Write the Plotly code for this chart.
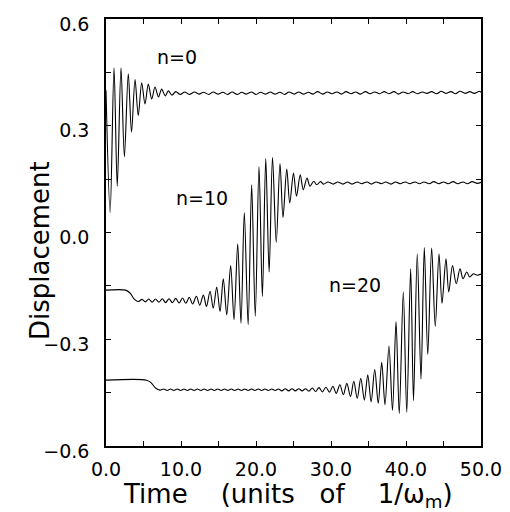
import plotly.graph_objects as go

# ---------------- data (turning points) ----------------
T0 = [0.0, 0.55, 1.07, 1.5, 2.0, 2.45, 2.97, 3.4, 3.87, 4.3,
      4.76, 5.2, 5.64, 6.1, 6.53, 7.0, 7.42, 7.9, 8.31, 8.8,
      9.3,
      9.9, 10.5, 11.1, 11.8, 12.4, 13.0, 13.7, 14.3, 14.9, 15.6,
      16.2, 16.8, 17.5, 18.1, 18.7, 19.4, 20.0, 20.6, 21.3, 21.9,
      22.5, 23.2, 23.8, 24.4, 25.1, 25.7, 26.3, 27.0, 27.6, 28.2,
      28.9, 29.5, 30.1, 30.8, 31.4, 32.0, 32.7, 33.3, 33.9, 34.6,
      35.2, 35.8, 36.5, 37.1, 37.7, 38.4, 39.0, 39.6, 40.3, 40.9,
      41.5, 42.2, 42.8, 43.4, 44.1, 44.7, 45.3, 46.0, 46.6, 47.2,
      47.9, 48.5, 49.1, 49.8, 50.0]
V0 = [0.40, 0.056, 0.463, 0.13, 0.463, 0.213, 0.446, 0.282, 0.430, 0.329,
      0.421, 0.361, 0.417, 0.375, 0.409, 0.381, 0.403, 0.384, 0.398, 0.386,
      0.396,
      0.388, 0.395, 0.388, 0.395, 0.389, 0.394, 0.388, 0.395, 0.389, 0.394,
      0.388, 0.395, 0.388, 0.394, 0.389, 0.395, 0.388, 0.394, 0.389, 0.395,
      0.389, 0.394, 0.388, 0.395, 0.389, 0.395, 0.389, 0.394, 0.389, 0.396,
      0.389, 0.395, 0.390, 0.395, 0.389, 0.396, 0.390, 0.395, 0.389, 0.396,
      0.390, 0.395, 0.390, 0.396, 0.390, 0.396, 0.389, 0.395, 0.390, 0.396,
      0.390, 0.395, 0.391, 0.396, 0.390, 0.397, 0.391, 0.396, 0.390, 0.397,
      0.391, 0.396, 0.391, 0.397, 0.394]

T10 = [0.0, 2.6, 3.2, 3.8, 4.3,
       4.8, 5.25, 5.7, 6.15, 6.6, 7.05, 7.5, 7.95, 8.4, 8.85,
       9.3, 9.75, 10.2, 10.65, 11.1, 11.55, 12.05, 12.5, 12.98, 13.4,
       13.87, 14.3, 14.76, 15.2, 15.64, 16.1, 16.62, 17.07, 17.56, 18.0,
       18.44, 18.95, 19.42, 19.9, 20.4, 20.85, 21.3, 21.75, 22.2, 22.7,
       23.2, 23.6, 24.1, 24.5, 25.0, 25.4, 25.9, 26.3, 26.8, 27.2,
       27.7, 28.1, 28.6, 29.0, 29.6, 30.3, 30.9, 31.6, 32.2, 32.8,
       33.5, 34.1, 34.8, 35.4, 36.0, 36.7, 37.3, 38.0, 38.6, 39.2,
       39.9, 40.5, 41.2, 41.8, 42.4, 43.1, 43.7, 44.4, 45.0, 45.6,
       46.3, 46.9, 47.6, 48.2, 48.8, 49.5, 50.0]
V10 = [-0.162, -0.162, -0.170, -0.188, -0.194,
       -0.188, -0.195, -0.187, -0.196, -0.187, -0.196, -0.186, -0.197, -0.186, -0.197,
       -0.185, -0.198, -0.184, -0.199, -0.182, -0.201, -0.179, -0.204, -0.176, -0.208,
       -0.165, -0.213, -0.153, -0.222, -0.130, -0.231, -0.093, -0.245, -0.032, -0.255,
       0.056, -0.259, 0.134, -0.235, 0.185, -0.180, 0.208, -0.111, 0.211, -0.028,
       0.194, 0.042, 0.178, 0.083, 0.167, 0.102, 0.162, 0.120, 0.153, 0.130,
       0.144, 0.134, 0.143, 0.136, 0.142, 0.136, 0.142, 0.136, 0.142, 0.136,
       0.142, 0.137, 0.142, 0.136, 0.142, 0.137, 0.142, 0.136, 0.142, 0.137,
       0.142, 0.137, 0.142, 0.137, 0.142, 0.137, 0.143, 0.137, 0.142, 0.137,
       0.143, 0.137, 0.142, 0.137, 0.143, 0.138, 0.141]

T20 = [0.0, 5.4, 6.0, 6.6, 7.2,
       7.7, 8.15, 8.6, 9.05, 9.5, 9.95, 10.4, 10.85, 11.3, 11.75,
       12.2, 12.65, 13.1, 13.55, 14.0, 14.45, 14.9, 15.35, 15.8, 16.25,
       16.7, 17.15, 17.6, 18.05, 18.5, 18.95, 19.4, 19.85, 20.3, 20.75,
       21.2, 21.65, 22.1, 22.55, 23.0, 23.45, 23.9, 24.35, 24.8, 25.25,
       25.7, 26.15, 26.6, 27.05, 27.5, 27.95, 28.4, 28.85,
       29.32, 29.8, 30.25, 30.7, 31.18, 31.65, 32.11, 32.6, 33.04, 33.5,
       33.97, 34.45, 34.9, 35.35, 35.83, 36.3, 36.76, 37.2, 37.73, 38.2,
       38.67, 39.1, 39.64, 40.1, 40.62, 41.0, 41.5, 42.0, 42.44, 42.9,
       43.42, 43.9, 44.4, 44.8, 45.33, 45.7, 46.2, 46.7, 47.2, 47.6,
       48.1, 48.5, 49.0, 49.5, 50.0]
V20 = [-0.415, -0.415, -0.422, -0.437, -0.443,
       -0.440, -0.444, -0.440, -0.444, -0.440, -0.444, -0.440, -0.444, -0.440, -0.444,
       -0.440, -0.444, -0.440, -0.444, -0.440, -0.444, -0.440, -0.444, -0.440, -0.444,
       -0.440, -0.444, -0.440, -0.444, -0.440, -0.444, -0.440, -0.444, -0.440, -0.444,
       -0.440, -0.444, -0.440, -0.444, -0.440, -0.445, -0.439, -0.445, -0.439, -0.445,
       -0.439, -0.445, -0.439, -0.446, -0.437, -0.447, -0.436, -0.448,
       -0.435, -0.449, -0.432, -0.452, -0.428, -0.456, -0.424, -0.461, -0.418, -0.466,
       -0.410, -0.471, -0.400, -0.476, -0.385, -0.480, -0.365, -0.484, -0.319, -0.500,
       -0.250, -0.509, -0.167, -0.505, -0.102, -0.472, -0.060, -0.412, -0.042, -0.343,
       -0.044, -0.264, -0.060, -0.199, -0.074, -0.167, -0.093, -0.144, -0.102, -0.130,
       -0.111, -0.125, -0.116, -0.120, -0.117]

LABELS = ["n=0", "n=10", "n=20"]
LABEL_T = [9.5, 12.8, 33.2]
LABEL_V = [0.494, 0.097, -0.147]

X_TICKS = [0, 10, 20, 30, 40, 50]
Y_TICKS = [-0.6, -0.3, 0.0, 0.3, 0.6]

# ---------------- figure ----------------
FONT = "DejaVu Sans"
fig = go.Figure()
for t, v in [(T0, V0), (T10, V10), (T20, V20)]:
    n = min(len(t), len(v))
    fig.add_trace(go.Scatter(x=t[:n], y=v[:n], mode="lines",
                             line=dict(color="black", width=1.1, shape="spline", smoothing=0.9),
                             showlegend=False, hoverinfo="skip"))

for lab, lt, lv in zip(LABELS, LABEL_T, LABEL_V):
    fig.add_annotation(x=lt, y=lv, text=lab, showarrow=False,
                       font=dict(family=FONT, size=19, color="black"))

axis_common = dict(showline=True, linecolor="black", linewidth=1.5, mirror="ticks",
                   ticks="inside", ticklen=5, tickwidth=1.2, tickcolor="black",
                   showgrid=False, zeroline=False, tickformat=".1f",
                   tickfont=dict(family=FONT, size=19, color="black"))

fig.update_xaxes(range=[0, 50], tickvals=X_TICKS, ticklabelstandoff=5,
                 minor=dict(dtick=5, tick0=0, ticks="inside", ticklen=5, tickwidth=1.2,
                            tickcolor="black", showgrid=False),
                 **axis_common)
fig.update_yaxes(range=[-0.6, 0.6], tickvals=Y_TICKS, ticklabelstandoff=11,
                 ticklabelshift=5,
                 minor=dict(dtick=0.15, tick0=-0.6, ticks="inside", ticklen=5, tickwidth=1.2,
                            tickcolor="black", showgrid=False),
                 **axis_common)

fig.add_annotation(xref="paper", yref="paper", x=-0.221, y=0.457, text="Displacement",
                   textangle=-90, showarrow=False,
                   font=dict(family=FONT, size=26, color="black"))
fig.add_annotation(xref="paper", yref="paper", x=0.485, y=-0.117,
                   text="Time\u00a0\u00a0\u00a0\u00a0(units\u00a0\u00a0\u00a0of\u00a0\u00a0\u00a0\u00a01/\u03c9<sub>m</sub>)",
                   showarrow=False, yanchor="middle",
                   font=dict(family=FONT, size=26, color="black"))

# page body has an 8px margin: figure is 502x504 so the plot area lands where the reference's does
fig.update_layout(width=502, height=504, plot_bgcolor="white", paper_bgcolor="white",
                  margin=dict(l=98, r=29, t=5, b=66))

fig.write_html("out.html")
